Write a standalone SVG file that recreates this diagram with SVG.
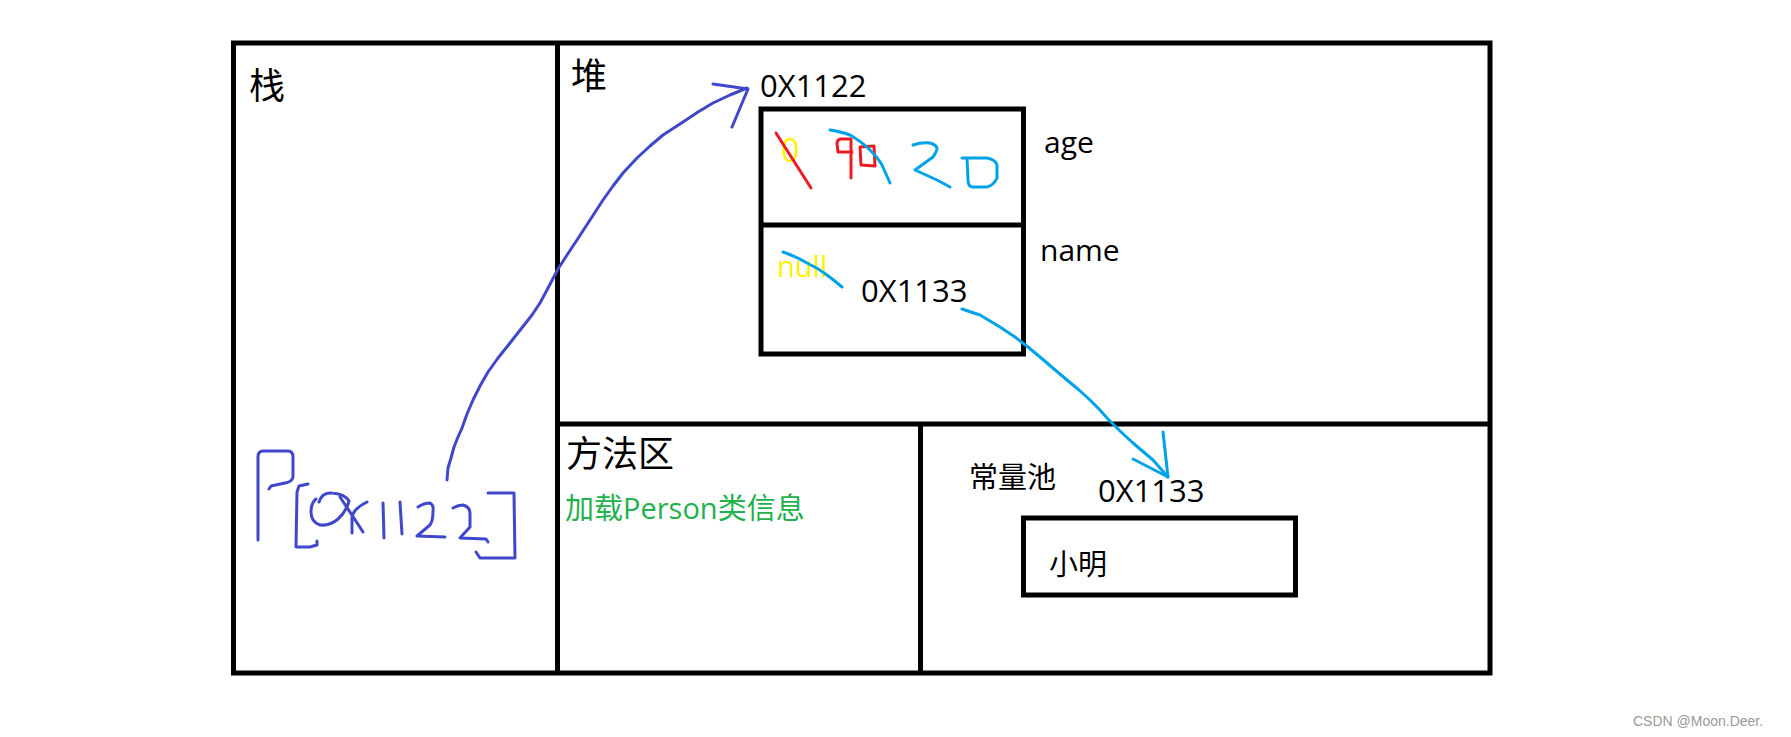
<svg xmlns="http://www.w3.org/2000/svg" width="1791" height="737" viewBox="0 0 1791 737">
<style>
.frame{fill:none;stroke:#000;stroke-width:5}
.t{font-family:"Open Sans","Noto Sans CJK SC",sans-serif;fill:#000}
.cjk{font-family:"Noto Sans CJK SC","Open Sans",sans-serif;fill:#000}
.ink{fill:none;stroke-width:3;stroke-linecap:round;stroke-linejoin:round}
.blue{stroke:#3F48CC}
.cyan{stroke:#00A2E8}
.red{stroke:#ED1C24}
</style>
<rect width="1791" height="737" fill="#fff"/>
<g id="memory-frame">
  <rect class="frame" x="233.5" y="43" width="1256.5" height="630"/>
  <line class="frame" x1="557.5" y1="43" x2="557.5" y2="673"/>
  <line class="frame" x1="557.5" y1="424" x2="1490" y2="424"/>
  <line class="frame" x1="920.5" y1="424" x2="920.5" y2="673"/>
</g>
<g id="stack">
  <text class="cjk" x="249" y="99" font-size="36">栈</text>
  <path class="ink blue" d="M258,540 L258,457 Q258,451 263,451 L288,451 Q293,451 293,457 L293,477 Q292,482 285,483 L271,486 L269,489"/>
  <path class="ink blue" d="M308,484 L299,486 L297,492 L296,547 L310,547 L317,545 L317,541"/>
  <path class="ink blue" d="M319,502 Q322,492 332,493 Q345,494 349,501 Q346,512 338,519 Q330,526 320,525 Q311,522 311,512 Q311,503 316,499"/>
  <path class="ink blue" d="M340,497 Q352,515 363,532 M367,502 Q351,510 352,520 L352,533"/>
  <path class="ink blue" d="M383,503 L384,538 M400,502 L402,534"/>
  <path class="ink blue" d="M418,507 Q424,503 430,503 Q434,505 433,511 Q433,521 430,525 L417,536 L445,537"/>
  <path class="ink blue" d="M453,508 Q458,505 463,505 Q470,507 470,513 L470,527 L460,538 L486,539 L488,542"/>
  <path class="ink blue" d="M488,493 L514,493 L515,558 L480,558 L476,552"/>
</g>
<g id="heap">
  <text class="cjk" x="571" y="89" font-size="36">堆</text>
</g>
<g id="person-object">
  <text class="t" x="760" y="97" font-size="31">0X1122</text>
  <rect class="frame" x="761" y="109" width="262.5" height="245"/>
  <line class="frame" x1="761" y1="225" x2="1023.5" y2="225"/>
  <text class="t" x="1044" y="153" font-size="30">age</text>
  <text class="t" x="1040" y="261" font-size="30">name</text>
  <text class="t" x="781" y="162" font-size="32" style="fill:#FFF200">0</text>
  <path class="ink red" d="M776,133 L811,188"/>
  <path class="ink red" d="M851,139 L840,139 Q837,140 837,144 L838,152 L852,152 M851,139 L851,178"/>
  <path class="ink red" d="M860,147 L874,146 L875,166 L861,165 Z"/>
  <path class="ink cyan" d="M830,130 Q842,132 850,135 Q862,142 870,150 Q878,158 882,165 L890,183"/>
  <path class="ink cyan" d="M913,145 Q922,142 930,143 Q937,145 937,149 Q936,153 933,157 L915,170 L937,180 L950,187"/>
  <path class="ink cyan" d="M962,158 L987,158 Q996,160 997,165 L997,178 Q994,185 987,187 L972,187 Q968,186 968,180 L967,158"/>
  <text class="t" x="777" y="277" font-size="29" style="fill:#FFF200">null</text>
  <path class="ink cyan" d="M783,252 Q795,256 807,263 Q818,268 827,275 Q835,281 842,287"/>
  <text class="t" x="861" y="301.5" font-size="31">0X1133</text>
</g>
<g id="method-area">
  <text class="cjk" x="566" y="467" font-size="36">方法区</text>
  <text class="t" x="565" y="519" font-size="29" style="fill:#22B14C">加载Person类信息</text>
</g>
<g id="constant-pool">
  <text class="cjk" x="969" y="488" font-size="29">常量池</text>
  <text class="t" x="1098" y="502" font-size="31">0X1133</text>
</g>
<g id="string-xiaoming">
  <rect class="frame" x="1023.5" y="518" width="272" height="77"/>
  <text class="cjk" x="1049" y="575" font-size="29">小明</text>
</g>
<g id="connectors">
  <path class="ink blue" d="M447,480 L448,468 L451,458 L454,447 L458,437 L462,428 L467,414 L473,400 L480,386 L488,372 L498,358 L510,343 L521,329 L532,315 L540,303 L547,290 L558,269 L567,255 L577,240 L590,220 L603,200 L613,186 L623,173 L637,158 L650,146 L663,135 L683,122 L698,112 L713,103 L730,95 L747,88"/>
  <path class="ink blue" d="M713,84 L748,89 L732,127"/>
  <path class="ink cyan" d="M962,309 L980,315 L1000,327 L1015,337 L1028,347 L1040,357 L1054,369 L1067,380 L1079,390 L1090,400 L1099,409 L1107,418 L1120,431 L1133,443 L1153,460 L1168,477"/>
  <path class="ink cyan" d="M1163,432 L1168,477 L1133,459"/>
</g>
<text x="1633" y="726" font-family="Liberation Sans, Arial, sans-serif" font-size="14" fill="#999">CSDN @Moon.Deer.</text>
</svg>
